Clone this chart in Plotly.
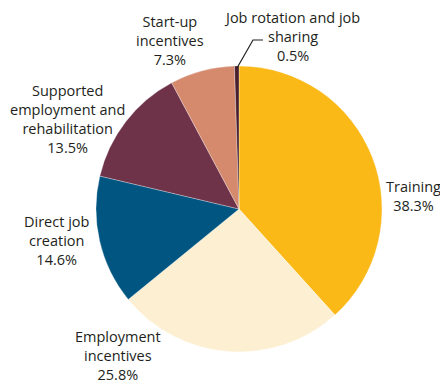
import plotly.graph_objects as go

categories = ["Training", "Employment incentives", "Direct job creation",
              "Supported employment and rehabilitation", "Start-up incentives",
              "Job rotation and job sharing"]
values = [38.3, 25.8, 14.6, 13.5, 7.3, 0.5]
label_text = ["Training<br>38.3%", "Employment<br>incentives<br>25.8%",
              "Direct job<br>creation<br>14.6%",
              "Supported<br>employment and<br>rehabilitation<br>13.5%",
              "Start-up<br>incentives<br>7.3%",
              "Job rotation and job<br>sharing<br>0.5%"]
colors = ["#FBB918", "#FDEFD2", "#005581", "#6E3249", "#D58A6E", "#4A1F2E"]

W, H = 440, 383
# label centre positions in pixels (layout only)
label_pos = [(413, 196), (118, 355), (57, 240), (67, 119), (170, 41), (292, 36)]

fig = go.Figure(go.Pie(
    labels=categories, values=values, sort=False, direction="clockwise",
    rotation=0, marker=dict(colors=colors, line=dict(color="white", width=0.3)),
    textinfo="none", hoverinfo="label+percent", showlegend=False,
    domain=dict(x=[96 / W, 382 / W], y=[1 - 352 / H, 1 - 66 / H]),
))

for txt, (px, py) in zip(label_text, label_pos):
    fig.add_annotation(x=px / W, y=1 - py / H, xref="paper", yref="paper",
                       text=txt, showarrow=False, xanchor="center", yanchor="middle",
                       align="center", font=dict(family="Open Sans", size=14.5, color="#231F20"))

fig.add_shape(type="path", xref="paper", yref="paper",
              path=f"M {237/W} {1-68/H} L {253/W} {1-40/H} L {263/W} {1-40/H}",
              line=dict(color="#231F20", width=1.2))

fig.update_layout(width=W, height=H, margin=dict(l=0, r=0, t=0, b=0),
                  paper_bgcolor="white", plot_bgcolor="white")
fig.write_html("out.html", config={"displayModeBar": False},
               post_script="document.body.style.margin='0';document.body.style.overflow='hidden';")
